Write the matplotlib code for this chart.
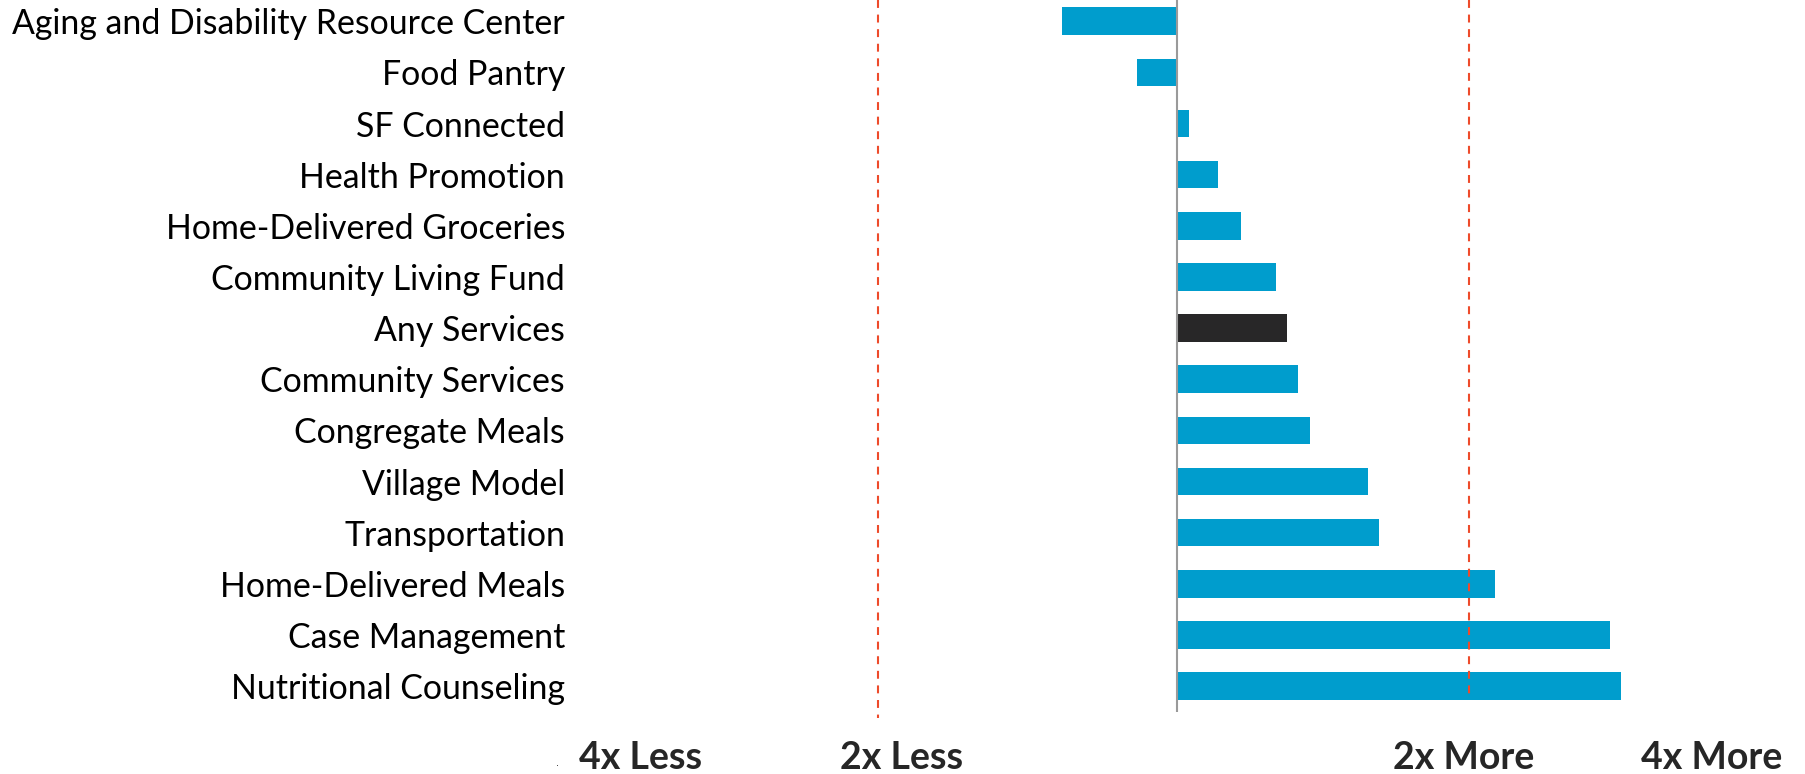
import matplotlib
matplotlib.use("Agg")
import matplotlib.pyplot as plt
from matplotlib.transforms import blended_transform_factory

# log2 of the ratio (negative = less, positive = more)
services = [
    "Aging and Disability Resource Center",
    "Food Pantry",
    "SF Connected",
    "Health Promotion",
    "Home-Delivered Groceries",
    "Community Living Fund",
    "Any Services",
    "Community Services",
    "Congregate Meals",
    "Village Model",
    "Transportation",
    "Home-Delivered Meals",
    "Case Management",
    "Nutritional Counseling",
]
log_ratio = [-0.393, -0.137, 0.039, 0.138, 0.216, 0.334, 0.371,
             0.408, 0.449, 0.646, 0.683, 1.075, 1.466, 1.503]
highlight = "Any Services"

scale_labels = ["4x Less", "2x Less", "2x More", "4x More"]
scale_label_x = [-1.819, -0.934, 0.971, 1.812]
ref_lines = [-1.015, 0.988]  # "2x" guides as drawn in the original

BLUE = "#009DCD"
DARK = "#282728"
RED = "#EE4B2B"

W, H = 1806, 774
AX_LEFT = 572
ZERO_PX = 1177.5
PX_PER_UNIT = 295

fig = plt.figure(figsize=(W / 100, H / 100), dpi=100)
ax = fig.add_axes([AX_LEFT / W, 1 - 711.7 / H, (W - AX_LEFT) / W, 711.7 / H])

colors = [DARK if s == highlight else BLUE for s in services]
ax.barh(range(len(services)), log_ratio, height=0.54, color=colors, zorder=2)

ax.set_xlim(-(ZERO_PX - AX_LEFT) / PX_PER_UNIT, (W - ZERO_PX) / PX_PER_UNIT)
ax.set_ylim(13.5, -0.415)

# zero line
ax.axvline(0, color="#9a9a9a", lw=1.5, zorder=3)

# 2x reference lines
ax.plot([ref_lines[0]] * 2, [-0.415, 13.63], color=RED, lw=1.5,
        linestyle=(0, (3.8, 3.2)), clip_on=False, zorder=1)
ax.plot([ref_lines[1]] * 2, [-0.415, 13.18], color=RED, lw=1.5,
        linestyle=(0, (3.8, 3.2)), clip_on=False, zorder=4)

ax.set_yticks(range(len(services)))
ax.set_yticklabels(services, fontsize=24.4, family="Lato")
ax.tick_params(axis="y", length=0, pad=5)
ax.set_xticks([])
for sp in ax.spines.values():
    sp.set_visible(False)

trans = blended_transform_factory(ax.transData, fig.transFigure)
for lab, x in zip(scale_labels, scale_label_x):
    ax.text(x, 1 - 769 / H, lab, transform=trans, ha="center", va="baseline",
            fontsize=27, fontweight="bold", family="Lato", color="#262626",
            clip_on=False)
fig.text(556 / W, 1 - 766 / H, ".", fontsize=7, color="#262626")

fig.savefig("out.png", dpi=100, facecolor="white")
